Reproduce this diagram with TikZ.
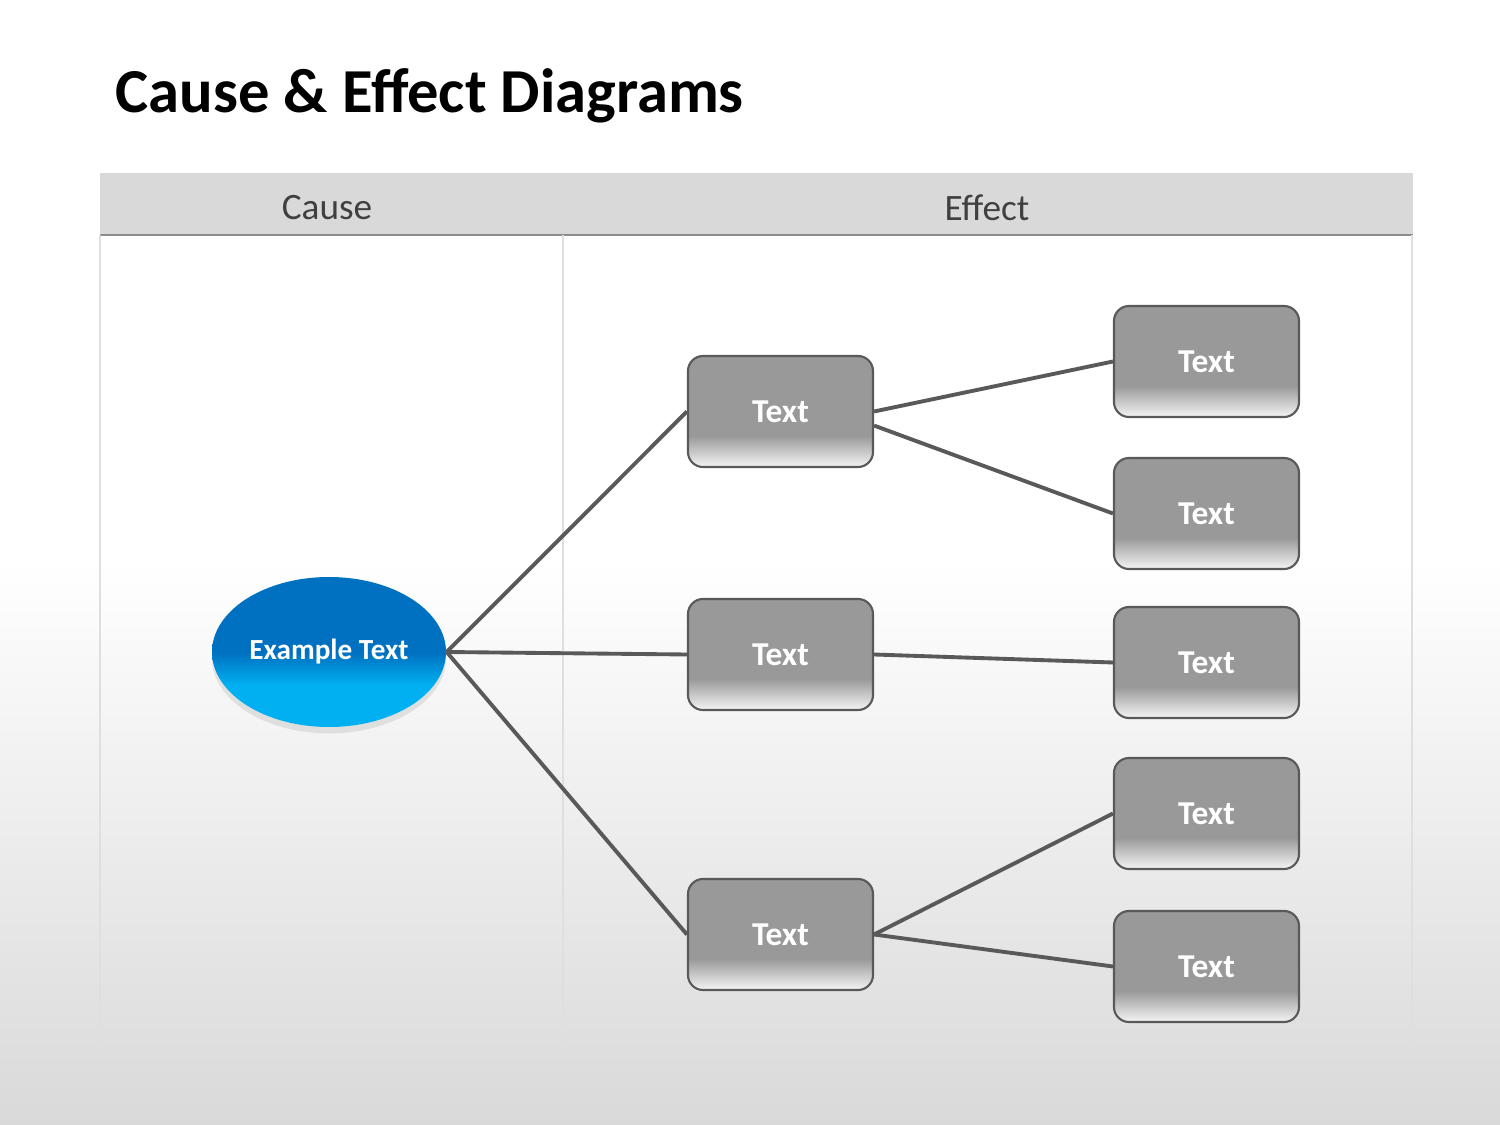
\documentclass[tikz,border=0pt]{standalone}
\usepackage{fontspec}
\setmainfont{Carlito}
\usetikzlibrary{shapes,positioning,shadows,calc}

\definecolor{boxgray}{HTML}{999999}
\definecolor{linegray}{HTML}{595959}
\definecolor{headgray}{HTML}{D9D9D9}
\definecolor{darkblue}{HTML}{0070C0}
\definecolor{lightblue}{HTML}{00B0F0}
\pgfdeclareverticalshading{boxshade}{100bp}{color(0bp)=(gray!8); color(25bp)=(gray!8); color(39bp)=(boxgray); color(100bp)=(boxgray)}
\pgfdeclareverticalshading{eggshade}{100bp}{color(0bp)=(lightblue); color(39bp)=(lightblue); color(50bp)=(darkblue); color(100bp)=(darkblue)}

\tikzset{
  effectbox/.style={rectangle, rounded corners=0.15cm, draw=linegray, line width=0.6pt,
    shading=boxshade, minimum width=1.85cm, minimum height=1.11cm,
    text=white, font=\fontsize{9.5}{11}\selectfont\bfseries},
  causeegg/.style={ellipse, shading=eggshade, minimum width=2.34cm, minimum height=1.5cm,
    inner sep=0pt, text=white, font=\fontsize{8.3}{10}\selectfont\bfseries,
    drop shadow={shadow xshift=0pt, shadow yshift=-1.8pt, opacity=0.18}},
  link/.style={draw=linegray, line width=1.1pt}
}

\begin{document}
\begin{tikzpicture}
  \useasboundingbox (0,0) rectangle (15,11.25);
  % Background
  \fill[white] (0,0) rectangle (15,11.25);
  \shade[top color=white, bottom color=headgray] (0,0) rectangle (15,5.65);

  % Title
  \node[anchor=base west, inner sep=0pt, font=\fontsize{17.8}{20}\selectfont\bfseries] (title) at (1.15,10.12) {Cause \& Effect Diagrams};

  % Table frame
  \fill[headgray] (1,8.9) rectangle (14.13,9.52);
  \draw[gray!90, line width=0.6pt] (1,8.9) -- (14.13,8.9);
  \draw[gray!25, line width=0.5pt] (1,8.9) -- (1,0.75) (5.63,8.9) -- (5.63,0.75) (14.12,8.9) -- (14.12,0.75);
  \node[text=black!75, font=\fontsize{10.6}{13}\selectfont] (cause) at (3.27,9.17) {Cause};
  \node[text=black!75, font=\fontsize{10.6}{13}\selectfont] (effect) at (9.87,9.17) {Effect};

  % Cause
  \node[causeegg] (ex) at (3.29,4.73) {Example Text};

  % Effects, first level
  \node[effectbox] (m1) at (7.805,7.135) {Text};
  \node[effectbox] (m2) at (7.805,4.705) {Text};
  \node[effectbox] (m3) at (7.805,1.905) {Text};

  % Effects, second level
  \node[effectbox] (r1) at (12.065,7.635) {Text};
  \node[effectbox] (r2) at (12.065,6.115) {Text};
  \node[effectbox] (r3) at (12.065,4.625) {Text};
  \node[effectbox] (r4) at (12.065,3.115) {Text};
  \node[effectbox] (r5) at (12.065,1.585) {Text};

  % Links
  \draw[link] (ex.east) -- (m1.west);
  \draw[link] (ex.east) -- (m2.west);
  \draw[link] (ex.east) -- (m3.west);
  \draw[link] (m1.east) -- (r1.west);
  \draw[link] ([yshift=-4pt]m1.east) -- (r2.west);
  \draw[link] (m2.east) -- (r3.west);
  \draw[link] (m3.east) -- (r4.west);
  \draw[link] (m3.east) -- (r5.west);
\end{tikzpicture}
\end{document}
